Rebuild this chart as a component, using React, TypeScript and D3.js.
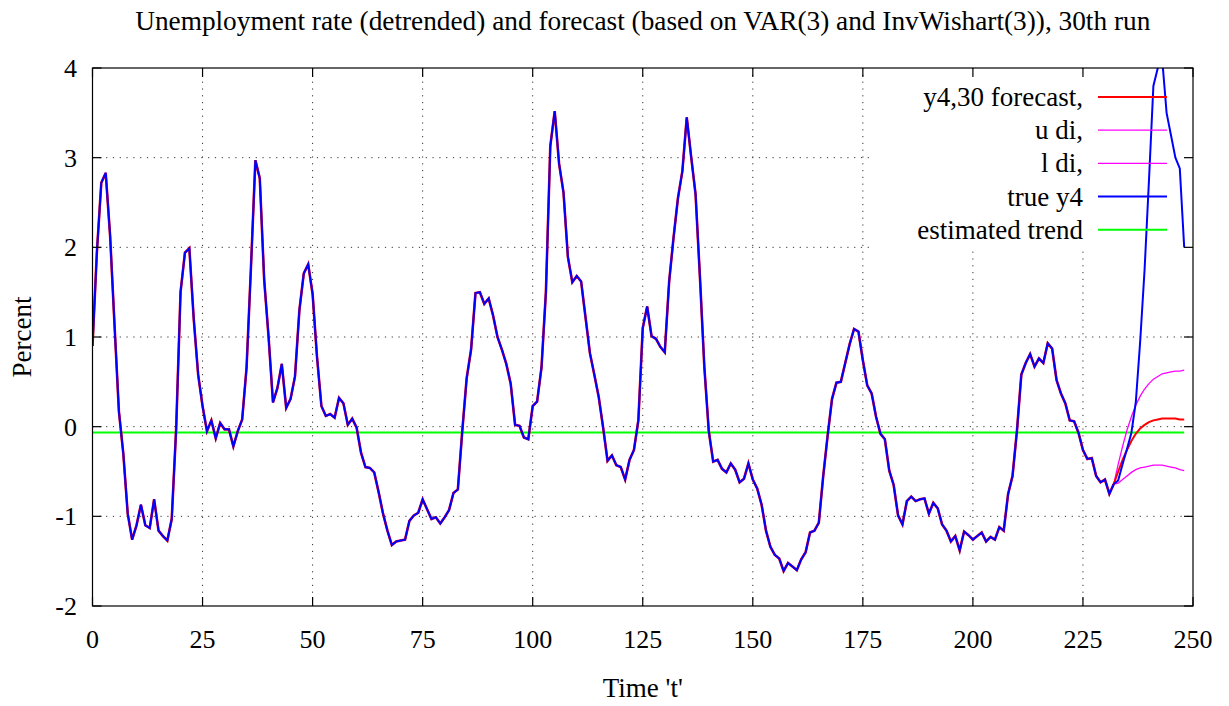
import React, { useEffect } from 'react';
import * as d3 from 'd3';

const W = 1229;
const H = 706;

// true y4 (detrended unemployment), t = 0 .. 248
const trueY: number[] = [
  0.90, 1.95, 2.72, 2.83, 2.13, 1.14, 0.17, -0.30, -0.97, -1.26,
  -1.10, -0.87, -1.10, -1.13, -0.81, -1.16, -1.22, -1.27, -1.03, -0.03,
  1.50, 1.94, 1.99, 1.20, 0.58, 0.23, -0.05, 0.07, -0.13, 0.04,
  -0.03, -0.03, -0.22, -0.05, 0.08, 0.66, 1.78, 2.97, 2.77, 1.64,
  1.00, 0.27, 0.43, 0.70, 0.21, 0.31, 0.56, 1.30, 1.71, 1.81,
  1.48, 0.78, 0.23, 0.12, 0.14, 0.10, 0.32, 0.26, 0.02, 0.09,
  -0.01, -0.29, -0.45, -0.46, -0.51, -0.73, -0.97, -1.16, -1.32, -1.28,
  -1.27, -1.26, -1.05, -0.99, -0.96, -0.81, -0.92, -1.03, -1.01, -1.08,
  -1.01, -0.93, -0.74, -0.70, -0.05, 0.54, 0.86, 1.49, 1.50, 1.37,
  1.43, 1.24, 1.00, 0.86, 0.70, 0.48, 0.02, 0.01, -0.12, -0.14,
  0.23, 0.28, 0.66, 1.50, 3.13, 3.52, 2.93, 2.61, 1.89, 1.61,
  1.68, 1.62, 1.22, 0.82, 0.58, 0.33, -0.01, -0.38, -0.32, -0.43,
  -0.45, -0.59, -0.37, -0.26, 0.07, 1.10, 1.34, 1.01, 0.98, 0.89,
  0.83, 1.62, 2.11, 2.55, 2.85, 3.45, 3.01, 2.59, 1.66, 0.66,
  -0.05, -0.39, -0.37, -0.47, -0.51, -0.41, -0.48, -0.62, -0.58, -0.41,
  -0.59, -0.69, -0.87, -1.16, -1.34, -1.43, -1.47, -1.61, -1.52, -1.56,
  -1.60, -1.48, -1.40, -1.18, -1.16, -1.07, -0.55, -0.10, 0.31, 0.49,
  0.50, 0.71, 0.92, 1.09, 1.06, 0.74, 0.46, 0.37, 0.11, -0.08,
  -0.14, -0.49, -0.65, -0.99, -1.09, -0.83, -0.78, -0.83, -0.81, -0.80,
  -0.97, -0.85, -0.91, -1.09, -1.16, -1.28, -1.22, -1.38, -1.17, -1.21,
  -1.26, -1.22, -1.18, -1.28, -1.23, -1.26, -1.12, -1.16, -0.75, -0.55,
  -0.05, 0.58, 0.71, 0.81, 0.67, 0.76, 0.71, 0.93, 0.87, 0.52,
  0.37, 0.26, 0.07, 0.06, -0.07, -0.26, -0.36, -0.35, -0.55, -0.62,
  -0.59, -0.75, -0.64, -0.60, -0.42, -0.25, -0.07, 0.27, 0.95, 1.75,
  2.75, 3.80, 4.00, 4.10, 3.50, 3.25, 3.00, 2.88, 2.00,
];

// forecast horizon starts at t = 232
const forecastStart = 232;
const forecastY: number[] = [
  -0.64, -0.50, -0.37, -0.26, -0.16, -0.08, -0.02, 0.02, 0.05,
  0.07, 0.08, 0.09, 0.09, 0.09, 0.09, 0.08, 0.08,
];
const upperDI: number[] = [
  -0.64, -0.42, -0.22, -0.04, 0.11, 0.24, 0.34, 0.42, 0.48,
  0.53, 0.56, 0.59, 0.60, 0.61, 0.62, 0.62, 0.63,
];
const lowerDI: number[] = [
  -0.64, -0.63, -0.59, -0.55, -0.51, -0.48, -0.46, -0.45, -0.44,
  -0.43, -0.43, -0.43, -0.44, -0.45, -0.46, -0.48, -0.49,
];
const trendLevel = -0.065;

const xTicks: number[] = [0, 25, 50, 75, 100, 125, 150, 175, 200, 225, 250];
const yTicks: number[] = [-2, -1, 0, 1, 2, 3, 4];
const legendLabels: string[] = ['y4,30 forecast,', 'u di,', 'l di,', 'true y4', 'estimated trend'];
const legendColors: string[] = ['#ff0000', '#ff00ff', '#ff00ff', '#0000ff', '#00ff00'];
const legendWidths: number[] = [2, 1.3, 1.3, 2, 2];

const FONT = "'Liberation Serif', 'Times New Roman', serif";

export default function App() {
  useEffect(() => {
    document.body.style.margin = '0';
  }, []);

  const left = 92.5, right = 1193, top = 68, bottom = 606;
  const x = d3.scaleLinear().domain([0, 250]).range([left, right]);
  const y = d3.scaleLinear().domain([-2, 4]).range([bottom, top]);

  type P = [number, number];
  const line = d3.line<P>().x(d => x(d[0])).y(d => y(d[1]));

  const histPts: P[] = trueY.map((v, i) => [i, v] as P);
  const histToForecast: P[] = histPts.filter(p => p[0] <= forecastStart);
  const fc: P[] = forecastY.map((v, i) => [forecastStart + i, v] as P);
  const up: P[] = upperDI.map((v, i) => [forecastStart + i, v] as P);
  const lo: P[] = lowerDI.map((v, i) => [forecastStart + i, v] as P);
  const lastT = forecastStart + forecastY.length - 1;
  const trendPts: P[] = [[0, trendLevel], [lastT, trendLevel]];

  const gridStyle = { stroke: '#333', strokeWidth: 1, strokeDasharray: '1.2 5.6', fill: 'none' } as const;
  const tickLen = 9;

  const legRowY = (i: number) => 97 + i * 33.2;
  const legTextX = 1083;
  const legLineX1 = 1098, legLineX2 = 1167;

  return (
    <svg width={W} height={H} style={{ display: 'block', background: '#fff' }} xmlns="http://www.w3.org/2000/svg">
      <defs>
        <clipPath id="plotClip">
          <rect x={left} y={top} width={right - left} height={bottom - top} />
        </clipPath>
      </defs>
      <rect x={0} y={0} width={W} height={H} fill="#fff" />

      {/* grid */}
      <g>
        {yTicks.filter(t => t > -2 && t < 4).map(t => (
          <line key={'gy' + t} x1={left} x2={right} y1={y(t)} y2={y(t)} style={gridStyle} />
        ))}
        {xTicks.filter(t => t > 0 && t < 250).map(t => (
          <line key={'gx' + t} x1={x(t)} x2={x(t)} y1={top} y2={bottom} style={gridStyle} />
        ))}
      </g>

      {/* legend background */}
      <rect x={872} y={top + 1} width={right - 872 - 1} height={248 - top} fill="#fff" />

      {/* data */}
      <g clipPath="url(#plotClip)">
        <path d={line(trendPts) || ''} fill="none" stroke="#00ff00" strokeWidth={2} />
        <path d={line(histToForecast) || ''} fill="none" stroke="#ff00ff" strokeWidth={1.3} />
        <path d={line(up) || ''} fill="none" stroke="#ff00ff" strokeWidth={1.3} />
        <path d={line(lo) || ''} fill="none" stroke="#ff00ff" strokeWidth={1.3} />
        <path d={line(histToForecast) || ''} fill="none" stroke="#ff0000" strokeWidth={2.6} />
        <path d={line(fc) || ''} fill="none" stroke="#ff0000" strokeWidth={2} strokeLinejoin="round" />
        <path d={line(histPts) || ''} fill="none" stroke="#0000ff" strokeWidth={2} strokeLinejoin="miter" />
      </g>

      {/* legend */}
      <g fontFamily={FONT} fontSize={27} fill="#000">
        {legendLabels.map((lab, i) => (
          <g key={lab}>
            <text x={legTextX} y={legRowY(i) + 9} textAnchor="end">{lab}</text>
            <line x1={legLineX1} x2={legLineX2} y1={legRowY(i)} y2={legRowY(i)} stroke={legendColors[i]} strokeWidth={legendWidths[i]} />
          </g>
        ))}
      </g>

      {/* border and ticks */}
      <rect x={left} y={top} width={right - left} height={bottom - top} fill="none" stroke="#000" strokeWidth={1.2} />
      {xTicks.map(t => (
        <g key={'tx' + t}>
          <line x1={x(t)} x2={x(t)} y1={bottom} y2={bottom - tickLen} stroke="#000" strokeWidth={1.2} />
          <line x1={x(t)} x2={x(t)} y1={top} y2={top + tickLen} stroke="#000" strokeWidth={1.2} />
        </g>
      ))}
      {yTicks.map(t => (
        <g key={'ty' + t}>
          <line x1={left} x2={left + tickLen} y1={y(t)} y2={y(t)} stroke="#000" strokeWidth={1.2} />
          <line x1={right} x2={right - tickLen} y1={y(t)} y2={y(t)} stroke="#000" strokeWidth={1.2} />
        </g>
      ))}

      {/* tick labels */}
      <g fontFamily={FONT} fontSize={26} fill="#000">
        {xTicks.map(t => (
          <text key={'lx' + t} x={x(t)} y={648} textAnchor="middle">{t}</text>
        ))}
        {yTicks.map(t => (
          <text key={'ly' + t} x={77} y={y(t) + 9} textAnchor="end">{t}</text>
        ))}
      </g>

      {/* titles */}
      <text x={(left + right) / 2} y={30} textAnchor="middle" fontFamily={FONT} fontSize={27.3} fill="#000">
        Unemployment rate (detrended) and forecast (based on VAR(3) and InvWishart(3)), 30th run
      </text>
      <text x={(left + right) / 2} y={697} textAnchor="middle" fontFamily={FONT} fontSize={27} fill="#000">
        Time 't'
      </text>
      <text transform={`translate(31, ${(top + bottom) / 2}) rotate(-90)`} textAnchor="middle" fontFamily={FONT} fontSize={27} fill="#000">
        Percent
      </text>
    </svg>
  );
}
